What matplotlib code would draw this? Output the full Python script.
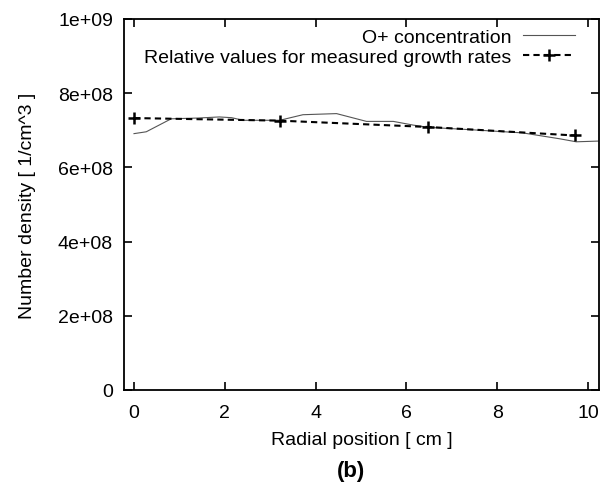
import matplotlib
matplotlib.use('Agg')
import matplotlib.pyplot as plt

plt.rcParams['font.family'] = ['Liberation Sans', 'DejaVu Sans']

# O+ concentration profile (thin solid line)
radius = [0.0, 0.27, 0.82, 1.4, 1.88, 2.15, 2.4, 3.21, 3.72, 4.46, 5.12, 5.71,
          6.15, 6.48, 7.5, 8.56, 9.38, 9.74, 10.24]
density = [6.91e8, 6.96e8, 7.31e8, 7.33e8, 7.36e8, 7.34e8, 7.27e8, 7.27e8,
           7.42e8, 7.45e8, 7.24e8, 7.24e8, 7.14e8, 7.08e8, 7.01e8, 6.93e8,
           6.77e8, 6.69e8, 6.71e8]

# relative values from measured growth rates (dashed with + markers)
meas_radius = [0.0, 3.21, 6.47, 9.71]
meas_density = [7.33e8, 7.26e8, 7.09e8, 6.86e8]

fig = plt.figure(figsize=(6.12, 4.89), dpi=100)
ax = fig.add_axes([124 / 612, 1 - 391 / 489, 475 / 612, 371 / 489])

ax.plot(radius, density, color='#555555', linewidth=0.8, label='O+ concentration')
ax.plot(meas_radius, meas_density, color='black', linestyle=(0, (3, 2)), linewidth=1.5,
        marker='+', markersize=9, markeredgewidth=1.8,
        label='Relative values for measured growth rates')

ax.set_xlim(-0.22, 10.24)
ax.set_ylim(0, 1e9)
ax.set_xticks([0, 2, 4, 6, 8, 10])
ax.set_yticks([0, 2e8, 4e8, 6e8, 8e8, 1e9])
ax.set_yticklabels(['0', '2e+08', '4e+08', '6e+08', '8e+08', '1e+09'])
ax.tick_params(direction='in', top=True, right=True, length=6, width=1.2,
               labelsize=14)
ax.tick_params(axis='x', pad=10)
ax.tick_params(axis='y', pad=8)
for s in ax.spines.values():
    s.set_linewidth(1.3)

ax.set_xlabel('Radial position [ cm ]', fontsize=14, labelpad=7)
ax.set_ylabel('Number density [ 1/cm^3 ]', fontsize=14, labelpad=16)

leg = ax.legend(loc='upper right', bbox_to_anchor=(0.95, 0.976), frameon=False,
                fontsize=14, markerfirst=False, handlelength=2.7,
                borderaxespad=0, borderpad=0, labelspacing=0.15,
                handletextpad=0.6)
for t in leg.get_texts():
    t.set_ha('right')

fig.text(351 / 612, 1 - 472 / 489, '(b)', ha='center', va='center',
         fontsize=16, fontweight='bold')

fig.savefig('out.png', dpi=100, facecolor='white')
